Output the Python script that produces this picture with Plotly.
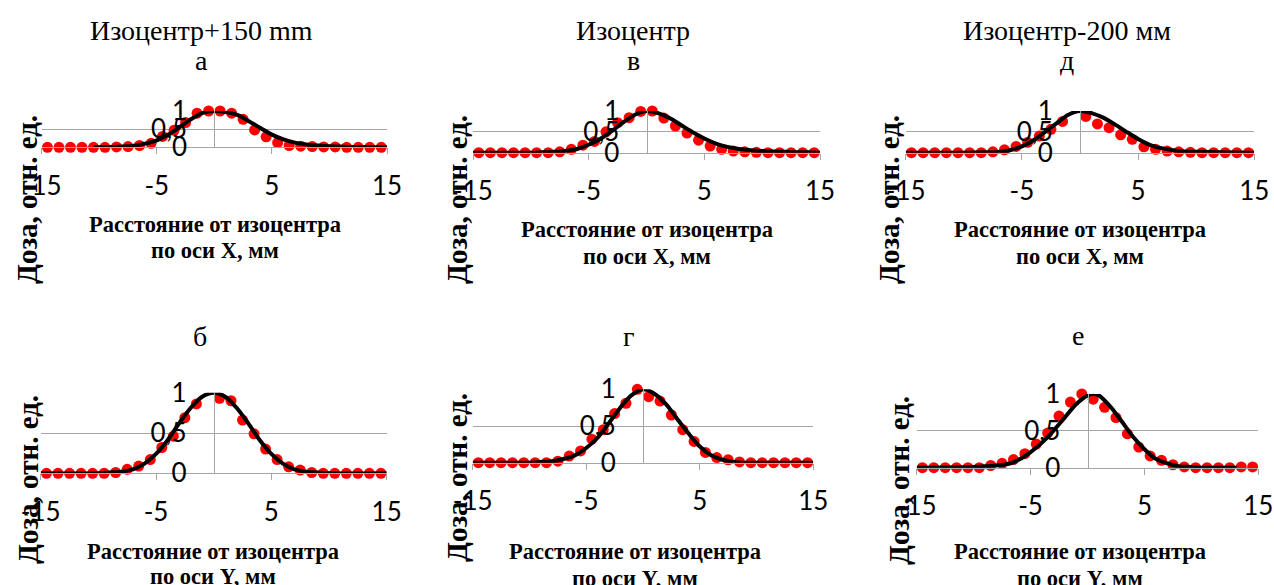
import plotly.graph_objects as go

W, H = 1274, 585

# measured points: x from -14.5 to 14.5 mm, step 1
X_PTS = [-14.5, -13.5, -12.5, -11.5, -10.5, -9.5, -8.5, -7.5, -6.5, -5.5,
         -4.5, -3.5, -2.5, -1.5, -0.5, 0.5, 1.5, 2.5, 3.5, 4.5,
         5.5, 6.5, 7.5, 8.5, 9.5, 10.5, 11.5, 12.5, 13.5, 14.5]

pts_a = [0, 0, 0, 0, 0, 0, 0.01, 0.02, 0.05, 0.11, 0.3, 0.47, 0.68, 0.94, 1.0,
         1.0, 0.94, 0.77, 0.48, 0.29, 0.13, 0.05, 0.03, 0.02, 0.01, 0.01, 0, 0, 0, 0]
pts_v = [0, 0, 0, 0, 0, 0, 0, 0.02, 0.08, 0.18, 0.27, 0.5, 0.72, 0.84, 0.99,
         1.0, 0.83, 0.64, 0.47, 0.3, 0.16, 0.08, 0.04, 0.02, 0.01, 0, 0, 0, 0, 0]
pts_d = [0, 0, 0, 0, 0, 0, 0, 0.02, 0.07, 0.15, 0.25, 0.4, 0.56, 0.75, 1.02,
         0.87, 0.69, 0.6, 0.43, 0.32, 0.14, 0.08, 0.04, 0.02, 0.01, 0, 0, 0, 0, 0]
pts_b = [0, 0, 0, 0, 0, 0, 0.01, 0.05, 0.09, 0.17, 0.32, 0.46, 0.69, 0.86, 1.03,
         0.93, 0.9, 0.66, 0.49, 0.3, 0.17, 0.08, 0.04, 0.01, 0, 0, 0, 0, 0, 0]
pts_g = [0, 0, 0, 0, 0, 0, 0, 0.02, 0.09, 0.16, 0.32, 0.45, 0.67, 0.81, 1.0,
         0.9, 0.84, 0.65, 0.45, 0.29, 0.14, 0.07, 0.04, 0.01, 0, 0, 0, 0, 0, 0]
pts_e = [0, 0, 0, 0, 0, 0, 0.03, 0.06, 0.11, 0.19, 0.32, 0.47, 0.7, 0.89, 1.0,
         0.93, 0.82, 0.68, 0.46, 0.28, 0.16, 0.1, 0.04, 0.01, 0, 0, 0, 0, 0.01, 0.01]

# fitted curves
fit_a_x = [-10.5, -9, -8, -7, -6, -5, -4, -3, -2, -1, 0, 1, 2, 3, 4, 5, 6, 7, 8, 9, 10, 11, 12, 13, 14, 15]
fit_a_y = [0.0, 0.01, 0.02, 0.04, 0.1, 0.19, 0.35, 0.56, 0.78, 0.95, 1.0, 0.97, 0.89, 0.72, 0.53, 0.35,
           0.22, 0.13, 0.08, 0.05, 0.03, 0.02, 0.01, 0.01, 0.0, 0.0]
fit_v_x = [-15, -12, -10, -9, -8, -7, -6, -5, -4, -3, -2, -1, 0, 1, 2, 3, 4, 5, 6, 7, 8, 9, 10, 11, 12, 13, 14, 15]
fit_v_y = [0, 0, 0, 0.01, 0.02, 0.04, 0.09, 0.19, 0.33, 0.52, 0.73, 0.91, 1.0, 0.95, 0.83, 0.66, 0.49,
           0.34, 0.22, 0.14, 0.09, 0.06, 0.04, 0.03, 0.02, 0.01, 0.01, 0.0]
fit_d_x = [-15, -10, -8, -7, -6, -5, -4, -3, -2, -1, 0, 1, 2, 3, 4, 5, 6, 7, 8, 9, 10, 12, 15]
fit_d_y = [0, 0, 0.01, 0.02, 0.06, 0.15, 0.3, 0.5, 0.71, 0.91, 1.0, 0.95, 0.84, 0.68, 0.5, 0.33,
           0.19, 0.11, 0.06, 0.03, 0.02, 0.01, 0]
fit_b_x = [-15, -10, -9, -8, -7, -6, -5, -4, -3, -2, -1, 0, 1, 2, 3, 4, 5, 6, 7, 8, 9, 10, 15]
fit_b_y = [0, 0, 0.01, 0.02, 0.05, 0.12, 0.24, 0.41, 0.62, 0.81, 0.95, 1.0, 0.95, 0.81, 0.62, 0.41,
           0.24, 0.12, 0.05, 0.02, 0.01, 0, 0]
fit_g_x = [-15, -10, -9, -8, -7, -6, -5, -4, -3, -2, -1, 0, 1, 2, 3, 4, 5, 6, 7, 8, 9, 10, 15]
fit_g_y = [0, 0, 0.01, 0.02, 0.05, 0.1, 0.2, 0.34, 0.54, 0.75, 0.92, 1.0, 0.94, 0.8, 0.6, 0.4,
           0.22, 0.1, 0.04, 0.01, 0, 0, 0]
fit_e_x = [-15, -10, -9, -8, -7, -6, -5, -4, -3, -2, -1, 0, 0.5, 1, 2, 3, 4, 5, 6, 7, 8, 9, 10, 11, 13.1]
fit_e_y = [0, 0.01, 0.02, 0.03, 0.05, 0.11, 0.21, 0.34, 0.5, 0.68, 0.86, 0.98, 1.0, 0.98, 0.83, 0.63,
           0.42, 0.25, 0.12, 0.06, 0.02, 0.01, 0, 0, 0]

X_TICKS = [-15, -5, 5, 15]
X_TICKTEXT = ["-15", "-5", "5", "15"]
Y_TICKS = [0, 0.5, 1]
Y_TICKTEXT = ["0", "0,5", "1"]

TITLES = ["Изоцентр+150 mm", "Изоцентр", "Изоцентр-200 мм"]
LETTERS = ["а", "в", "д", "б", "г", "е"]
XTITLE1 = "Расстояние от изоцентра"
XTITLE2 = ["по оси X, мм"] * 3 + ["по оси Y, мм"] * 3
YTITLE = "Доза, отн. ед."

panels = [
    (pts_a, fit_a_x, fit_a_y),
    (pts_v, fit_v_x, fit_v_y),
    (pts_d, fit_d_x, fit_d_y),
    (pts_b, fit_b_x, fit_b_y),
    (pts_g, fit_g_x, fit_g_y),
    (pts_e, fit_e_x, fit_e_y),
]

# plot-area pixel boxes: (x_left, x_right, y_of_1, y_of_0)
boxes = [
    (41.7, 387.0, 111.0, 147.3),
    (473.0, 820.0, 111.0, 152.7),
    (905.7, 1254.3, 111.0, 152.7),
    (40.7, 386.7, 392.7, 473.3),
    (472.7, 813.3, 389.3, 462.7),
    (916.7, 1258.3, 394.0, 467.7),
]
title_pos = [(201, 30), (633, 30), (1067, 30)]
letter_pos = [(201, 61), (633, 61), (1067, 61), (200, 336), (628, 336), (1078, 335)]
xtitle_pos = [(215, 225, 250), (647, 230, 256), (1080, 230, 256),
              (213, 551, 576), (635, 551, 578), (1080, 551, 578)]
ytitle_pos = [(27, 200), (457, 200), (889, 200), (28, 480), (457, 478), (899, 481)]

SERIF = "Liberation Serif"
TICKFONT = dict(family="Lato", size=26, color="black")
GRID = "#A6A6A6"

fig = go.Figure()
layout = dict(width=W, height=H, margin=dict(l=0, r=0, t=0, b=0, autoexpand=False),
              paper_bgcolor="white", plot_bgcolor="white", showlegend=False)
annotations = []

def px(x):
    return x / W

def py(y):
    return 1 - y / H

def ann(text, x, y, size, bold=False, angle=0):
    return dict(text=f"<b>{text}</b>" if bold else text, x=px(x), y=py(y),
                xref="paper", yref="paper", showarrow=False, textangle=angle,
                font=dict(family=SERIF, size=size, color="black"),
                xanchor="center", yanchor="middle")

for i, ((pts, fx, fy), (xl, xr, y1, y0)) in enumerate(zip(panels, boxes)):
    n = i + 1
    xa = "x" if n == 1 else f"x{n}"
    ya = "y" if n == 1 else f"y{n}"
    fig.add_trace(go.Scatter(x=X_PTS, y=pts, mode="markers", xaxis=xa, yaxis=ya,
                             marker=dict(color="#FF0000", size=11), cliponaxis=False))
    fig.add_trace(go.Scatter(x=fx, y=fy, mode="lines", xaxis=xa, yaxis=ya,
                             line=dict(color="black", width=4, shape="spline", smoothing=0.8),
                             cliponaxis=False))
    dx = [px(xl), px(xr)]
    dy = [py(y0), py(y1)]
    layout["xaxis" if n == 1 else f"xaxis{n}"] = dict(
        domain=dx, range=[-15, 15], tickvals=X_TICKS, ticktext=X_TICKTEXT,
        ticks="outside", ticklen=6,
        tickcolor=GRID, showline=True, linecolor=GRID, linewidth=1, showgrid=False,
        zeroline=False, anchor=ya, tickfont=TICKFONT, ticklabelstandoff=9, automargin=False)
    layout["yaxis" if n == 1 else f"yaxis{n}"] = dict(
        domain=dy, range=[0, 1], tickvals=Y_TICKS, ticktext=Y_TICKTEXT, ticks="",
        showgrid=True, gridcolor=GRID, gridwidth=1, showline=True, linecolor=GRID,
        linewidth=1, zeroline=False, anchor="free", position=(dx[0] + dx[1]) / 2,
        tickfont=TICKFONT, ticklabelstandoff=22, automargin=False)
    annotations.append(ann(LETTERS[i], letter_pos[i][0], letter_pos[i][1], 28))
    xt = xtitle_pos[i]
    annotations.append(ann(XTITLE1, xt[0], xt[1], 22.5, bold=True))
    annotations.append(ann(XTITLE2[i], xt[0], xt[2], 22.5, bold=True))
    annotations.append(ann(YTITLE, ytitle_pos[i][0], ytitle_pos[i][1], 29, bold=True, angle=-90))

for t, (x, y) in zip(TITLES, title_pos):
    annotations.append(ann(t, x, y, 28))

layout["annotations"] = annotations
fig.update_layout(**layout)
fig.write_html("out.html", config={"displayModeBar": False},
               post_script="document.body.style.margin='0';document.body.style.overflow='hidden';")
